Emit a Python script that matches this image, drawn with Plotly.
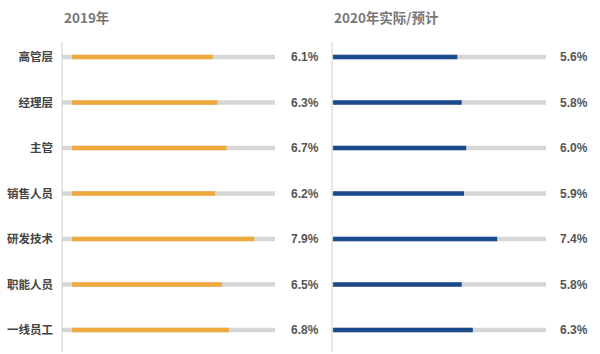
import plotly.graph_objects as go

categories = ["高管层", "经理层", "主管", "销售人员", "研发技术", "职能人员", "一线员工"]
values_2019 = [6.1, 6.3, 6.7, 6.2, 7.9, 6.5, 6.8]
values_2020 = [5.6, 5.8, 6.0, 5.9, 7.4, 5.8, 6.3]
titles = ["2019年", "2020年实际/预计"]

W, H = 600, 354
ORANGE = "#F0A93B"
BLUE = "#1B4A8A"
TRACK = "#D6D6D6"
AXIS = "#D0D0D0"
CJK = "Noto Sans CJK SC"

def px(x):
    return x / W

def py(y):
    return 1 - y / H

fig = go.Figure()

fig.add_trace(go.Bar(y=categories, x=values_2019, base=0, orientation="h",
                     marker=dict(color=ORANGE, line=dict(width=0)), width=0.1,
                     xaxis="x", yaxis="y", showlegend=False, hoverinfo="skip"))
fig.add_trace(go.Bar(y=categories, x=values_2020, base=0, orientation="h",
                     marker=dict(color=BLUE, line=dict(width=0)), width=0.1,
                     xaxis="x2", yaxis="y2", showlegend=False, hoverinfo="skip"))

ydom = [py(352.75), py(34.25)]
left_dom = [px(62), px(275)]
right_dom = [px(332), px(546)]

fig.update_layout(
    width=W, height=H,
    margin=dict(l=0, r=0, t=0, b=0),
    paper_bgcolor="white", plot_bgcolor="rgba(0,0,0,0)",
    barmode="overlay",
    font=dict(family=CJK, color="#555"),
    xaxis=dict(domain=left_dom, range=[-0.44, 8.8], visible=False, fixedrange=True),
    xaxis2=dict(domain=right_dom, range=[-0.05, 9.6], visible=False, fixedrange=True),
    yaxis=dict(domain=ydom, anchor="x", categoryorder="array", categoryarray=categories,
               range=[6.5, -0.5], showgrid=False, zeroline=False, showline=False,
               ticks="", ticklabelstandoff=8,
               tickfont=dict(family=CJK, size=11.5, color="#444", weight="bold")),
    yaxis2=dict(domain=ydom, anchor="x2", categoryorder="array", categoryarray=categories,
                range=[6.5, -0.5], showgrid=False, zeroline=False, showline=False,
                showticklabels=False, ticks=""),
)

shapes = []
annotations = []
for i, c in enumerate(categories):
    for xr in ("x", "x2"):
        shapes.append(dict(type="line", xref=f"{xr} domain", yref="y" if xr == "x" else "y2",
                           x0=0, x1=1, y0=i, y1=i, layer="below",
                           line=dict(color=TRACK, width=4.5)))
# axis lines
for xpix in (62, 332):
    shapes.append(dict(type="line", xref="paper", yref="paper", x0=px(xpix), x1=px(xpix),
                       y0=py(352), y1=py(42), line=dict(color=AXIS, width=1)))

for i, v in enumerate(values_2019):
    annotations.append(dict(xref="paper", yref="y", x=px(289), y=i, text=f"{v:.1f}%",
                            xanchor="left", yanchor="middle", showarrow=False,
                            font=dict(family="Liberation Sans", size=12, color="#555", weight="bold")))
for i, v in enumerate(values_2020):
    annotations.append(dict(xref="paper", yref="y2", x=px(558), y=i, text=f"{v:.1f}%",
                            xanchor="left", yanchor="middle", showarrow=False,
                            font=dict(family="Liberation Sans", size=12, color="#555", weight="bold")))

for t, xpix in zip(titles, (62, 332)):
    annotations.append(dict(xref="paper", yref="paper", x=px(xpix), y=py(17), text=t,
                            xanchor="left", yanchor="middle", showarrow=False,
                            font=dict(family=CJK, size=13.5, color="#777", weight="bold")))

fig.update_layout(shapes=shapes, annotations=annotations)
fig.write_html("out.html")
